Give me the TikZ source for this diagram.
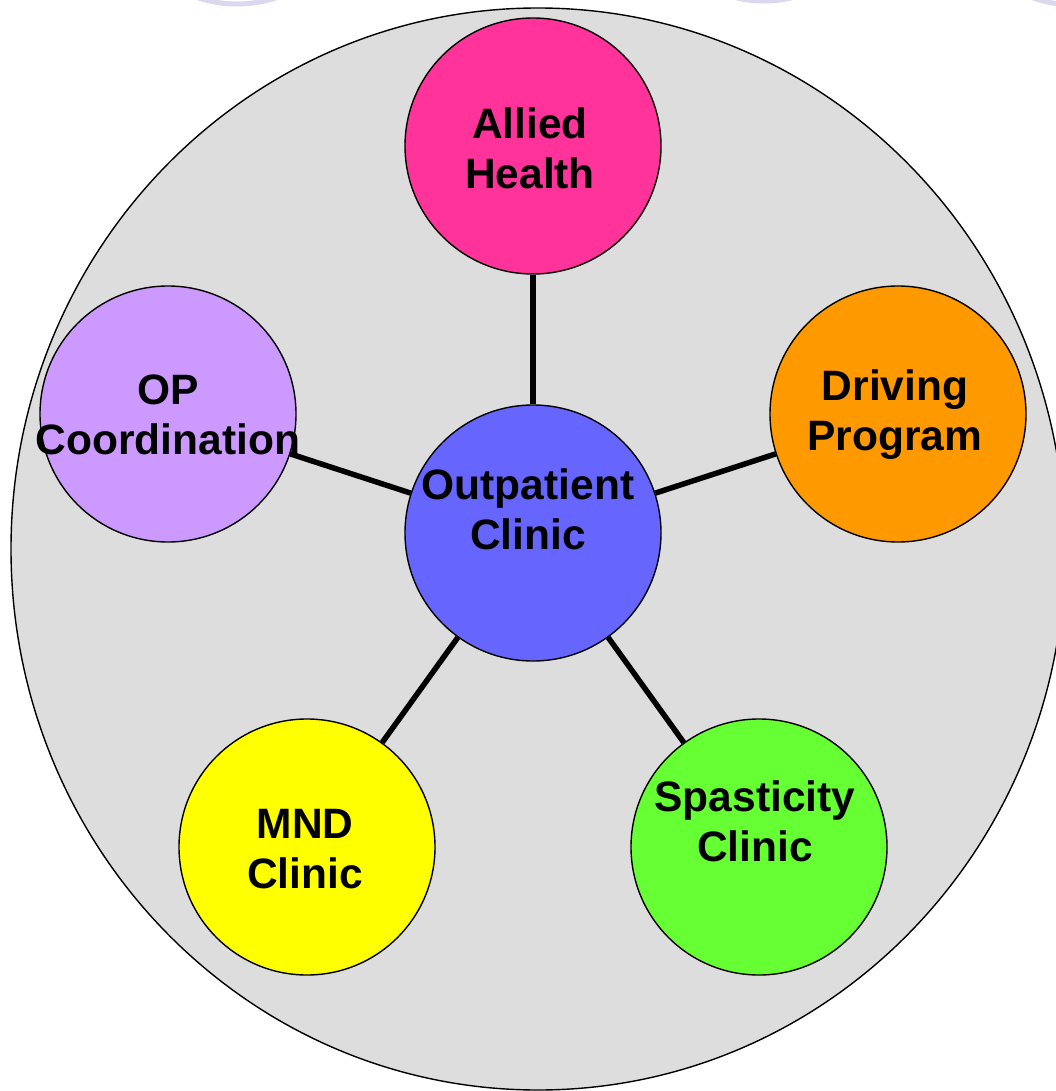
\documentclass[tikz,border=0pt]{standalone}
\usepackage{fontspec}
\setmainfont{Liberation Sans}
\begin{document}
\begin{tikzpicture}[x=1pt,y=-1pt,
  bubble/.style={circle,draw=black,line width=1.4pt,minimum size=256pt,inner sep=0pt},
  lbl/.style={font=\fontsize{42.5}{50}\selectfont\bfseries,align=center,inner sep=0pt,text=black},
  link/.style={line width=5.5pt,black},
  ghost/.style={line width=5pt,draw={rgb,255:red,218;green,216;blue,238}}]
\definecolor{bg}{RGB}{221,221,221}
\definecolor{pinkc}{RGB}{255,51,153}
\definecolor{lilac}{RGB}{204,153,255}
\definecolor{orangec}{RGB}{255,153,0}
\definecolor{bluec}{RGB}{102,102,255}
\definecolor{yellowc}{RGB}{255,255,0}
\definecolor{greenc}{RGB}{102,255,51}
\useasboundingbox (0,0) rectangle (1056,1091);
\clip (0,0) rectangle (1056,1091);
% faint partial rings at the top edge
\draw[ghost] (237,-122) circle[radius=126];
\draw[ghost] (764,-118) circle[radius=119];
\draw[ghost] (1075,-122) circle[radius=127];
% big background disc
\draw[fill=bg,line width=1.4pt] (538,549) ellipse[x radius=527,y radius=541];
% bubbles
\node[bubble,fill=bluec] (op) at (533,533) {};
\node[bubble,fill=pinkc] (ah) at (533,146) {};
\node[bubble,fill=lilac] (opc) at (168,414) {};
\node[bubble,fill=orangec] (dp) at (898,414) {};
\node[bubble,fill=yellowc] (mnd) at (307,847) {};
\node[bubble,fill=greenc] (sc) at (759,847) {};
% connectors
\draw[link] (op) -- (ah);
\draw[link] (op) -- (opc);
\draw[link] (op) -- (dp);
\draw[link] (op) -- (mnd);
\draw[link] (op) -- (sc);
% labels
\node[lbl] (opt) at (528,509) {Outpatient\\Clinic};
\node[lbl] (aht) at (530,148) {Allied\\Health};
\node[lbl] (opct) at (168,415) {OP\\Coordination};
\node[lbl] (dpt) at (895,415) {Driving\\Program};
\node[lbl] (mndt) at (305,849) {MND\\Clinic};
\node[lbl] (sct) at (755,821) {Spasticity\\Clinic};
\end{tikzpicture}
\end{document}
